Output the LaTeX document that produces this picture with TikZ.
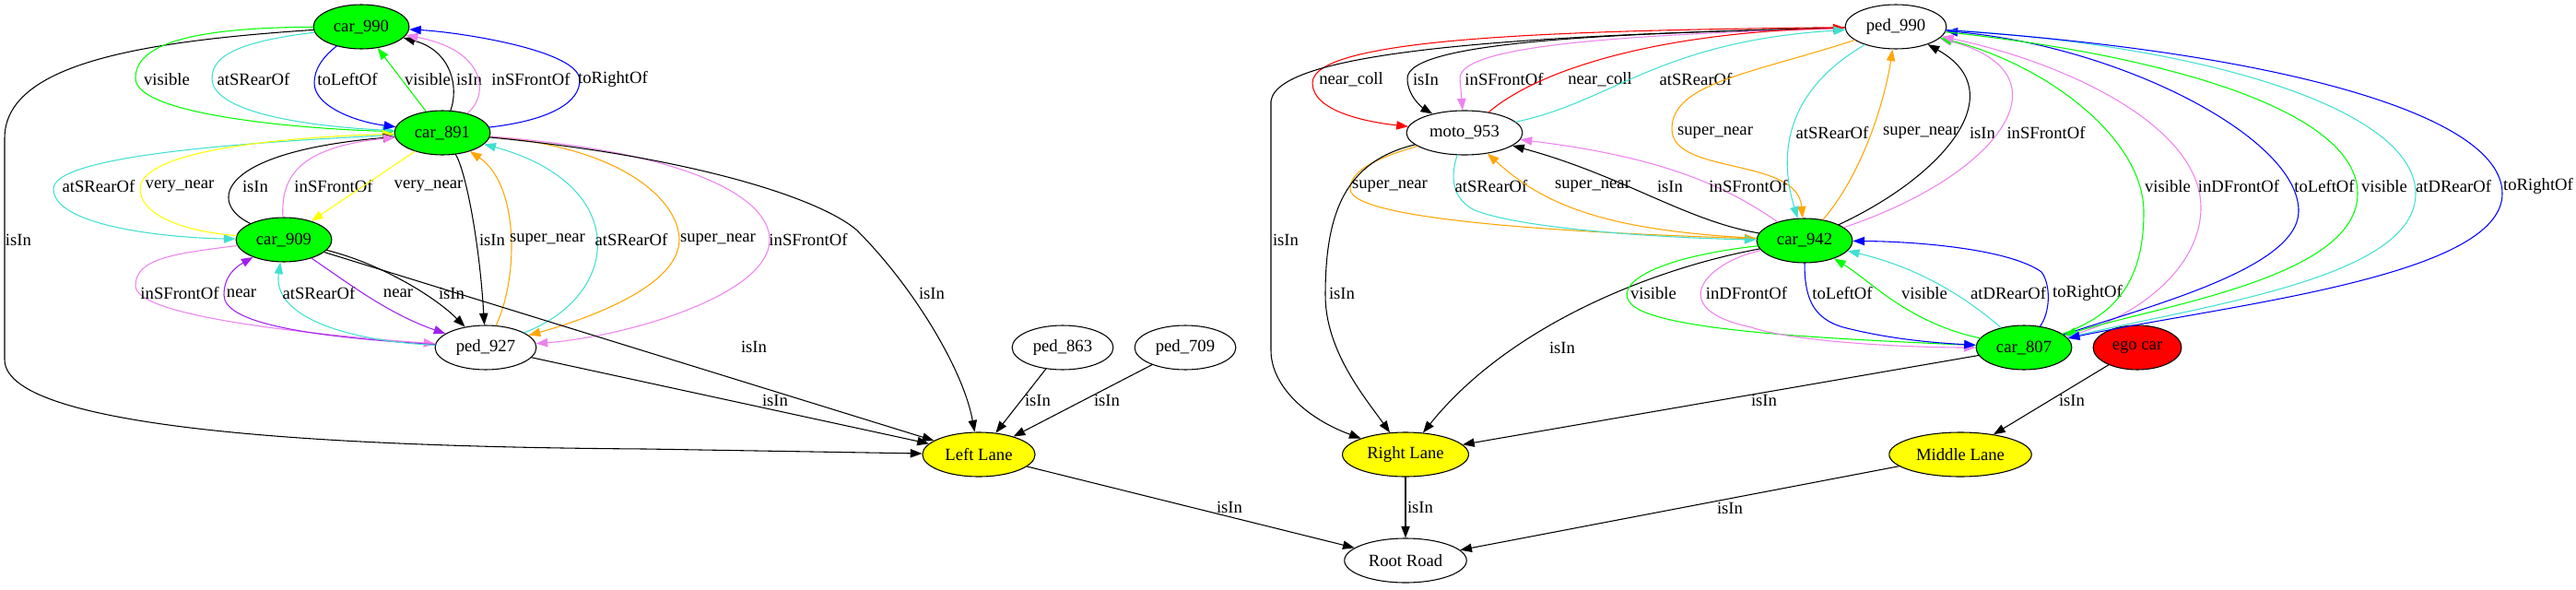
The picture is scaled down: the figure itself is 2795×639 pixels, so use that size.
\documentclass[tikz,border=0pt]{standalone}
\usepackage{fontspec}
\setmainfont{Liberation Serif}
\usetikzlibrary{arrows.meta,shapes.geometric}
\definecolor{gvgreen}{RGB}{0,255,0}
\definecolor{gvyellow}{RGB}{255,255,0}
\definecolor{gvred}{RGB}{255,0,0}
\definecolor{gvblue}{RGB}{0,0,255}
\definecolor{gvturq}{RGB}{64,224,208}
\definecolor{gvviolet}{RGB}{238,130,238}
\definecolor{gvpurple}{RGB}{160,32,240}
\definecolor{gvorange}{RGB}{255,165,0}
\newcommand{\gvsize}{\fontsize{14pt}{16pt}\selectfont}
\begin{document}
\begin{tikzpicture}[x=0.75pt, y=-0.75pt, line join=round, line cap=round, >={Triangle[length=9.5pt,width=7pt]},
	obj/.style={ellipse, draw, fill=white, line width=0.8pt, minimum height=36pt, inner xsep=5pt, inner ysep=0pt, font=\gvsize},
	car/.style={obj, fill=gvgreen},
	lane/.style={obj, fill=gvyellow},
	egocar/.style={obj, fill=gvred},
	rel/.style={->, line width=0.8pt},
	lbl/.style={font=\gvsize, text=black, inner sep=0pt}]
	\useasboundingbox (0,0) rectangle (2795,639);
	\node[car] (c990) at (392,29) {car\_990};
	\node[car] (c891) at (480,144) {car\_891};
	\node[car] (c909) at (308,260) {car\_909};
	\node[obj] (p927) at (527,377) {ped\_927};
	\node[obj] (p863) at (1153,377) {ped\_863};
	\node[obj] (p709) at (1286,377) {ped\_709};
	\node[lane] (LL) at (1062,493) {Left Lane};
	\node[lane] (RL) at (1525,493) {Right Lane};
	\node[lane] (ML) at (2127,493) {Middle Lane};
	\node[obj] (RR) at (1525,608) {Root Road};
	\node[obj] (p990) at (2057,29) {ped\_990};
	\node[obj] (m953) at (1589,144) {moto\_953};
	\node[car] (c942) at (1958,261) {car\_942};
	\node[car] (c807) at (2196,377) {car\_807};
	\node[egocar] (ego) at (2319,377) {ego car};
	\draw[rel] (c990) .. controls (150,45) and (5,70) .. (5,150) -- (5,390) .. controls (5,470) and (400,485) .. (700,487) -- (LL) node[lbl] (lb1) at (20,260) {isIn};
	\draw[rel, gvgreen] (c990) .. controls (200,30) and (147,50) .. (147,85) .. controls (147,125) and (330,140) .. (c891) node[lbl] (lb2) at (181,86) {visible};
	\draw[rel, gvturq] (c990) .. controls (260,45) and (230,60) .. (230,85) .. controls (230,125) and (350,138) .. (c891) node[lbl] (lb3) at (275,86) {atSRearOf};
	\draw[rel, gvblue] (c990) .. controls (350,62) and (341,75) .. (341,90) .. controls (341,115) and (385,132) .. (c891) node[lbl] (lb4) at (377,86) {toLeftOf};
	\draw[rel, gvgreen] (c891) -- (c990) node[lbl] (lb5) at (464,86) {visible};
	\draw[rel] (c891) .. controls (498,95) and (490,55) .. (c990) node[lbl] (lb6) at (509,86) {isIn};
	\draw[rel, gvviolet] (c891) .. controls (530,105) and (530,55) .. (c990) node[lbl] (lb7) at (576,86) {inSFrontOf};
	\draw[rel, gvblue] (c891) .. controls (600,130) and (629,110) .. (629,87) .. controls (629,55) and (500,35) .. (c990) node[lbl] (lb8) at (665,86) {toRightOf};
	\draw[rel, gvturq] (c891) .. controls (250,155) and (58,170) .. (58,205) .. controls (58,245) and (180,258) .. (c909) node[lbl] (lb9) at (107,202) {atSRearOf};
	\draw[rel, gvyellow] (c909) .. controls (190,250) and (152,230) .. (152,205) .. controls (152,160) and (330,148) .. (c891) node[lbl] (lb10) at (195,202) {very\_near};
	\draw[rel] (c909) .. controls (225,220) and (235,165) .. (c891) node[lbl] (lb11) at (277,202) {isIn};
	\draw[rel, gvviolet] (c909) .. controls (305,195) and (320,160) .. (c891) node[lbl] (lb12) at (362,202) {inSFrontOf};
	\draw[rel, gvyellow] (c891) -- (c909) node[lbl] (lb13) at (465,202) {very\_near};
	\draw[rel] (c891) .. controls (505,185) and (520,260) .. (p927) node[lbl] (lb14) at (534,260) {isIn};
	\draw[rel, gvorange] (p927) .. controls (563,300) and (563,200) .. (c891) node[lbl] (lb15) at (594,260) {super\_near};
	\draw[rel, gvturq] (p927) .. controls (675,320) and (685,200) .. (c891) node[lbl] (lb16) at (685,260) {atSRearOf};
	\draw[rel, gvorange] (c891) .. controls (680,160) and (737,220) .. (737,260) .. controls (737,310) and (640,345) .. (p927) node[lbl] (lb17) at (779,260) {super\_near};
	\draw[rel, gvviolet] (c891) .. controls (750,165) and (835,215) .. (835,260) .. controls (835,320) and (680,365) .. (p927) node[lbl] (lb18) at (877,260) {inSFrontOf};
	\draw[rel] (c891) .. controls (750,170) and (890,215) .. (930,250) .. controls (990,310) and (1045,400) .. (LL) node[lbl] (lb19) at (1011,318) {isIn};
	\draw[rel, gvviolet] (c909) .. controls (190,275) and (147,280) .. (147,310) .. controls (147,340) and (300,360) .. (p927) node[lbl] (lb20) at (195,318) {inSFrontOf};
	\draw[rel, gvpurple] (p927) .. controls (330,365) and (243,350) .. (243,320) .. controls (243,300) and (255,290) .. (c909) node[lbl] (lb21) at (262,318) {near};
	\draw[rel, gvturq] (p927) .. controls (380,370) and (295,345) .. (c909) node[lbl] (lb22) at (346,318) {atSRearOf};
	\draw[rel, gvpurple] (c909) .. controls (375,305) and (420,340) .. (p927) node[lbl] (lb23) at (432,318) {near};
	\draw[rel] (c909) .. controls (410,285) and (470,320) .. (p927) node[lbl] (lb24) at (490,318) {isIn};
	\draw[rel] (c909) -- (LL) node[lbl] (lb25) at (818,376) {isIn};
	\draw[rel] (p927) -- (LL) node[lbl] (lb26) at (841,434) {isIn};
	\draw[rel] (p863) -- (LL) node[lbl] (lb27) at (1126,434) {isIn};
	\draw[rel] (p709) -- (LL) node[lbl] (lb28) at (1201,434) {isIn};
	\draw[rel] (LL) -- (RR) node[lbl] (lb29) at (1334,550) {isIn};
	\draw[rel] (RL) -- (RR) node[lbl] (lb30) at (1541,550) {isIn};
	\draw[rel] (ML) -- (RR) node[lbl] (lb31) at (1877,551) {isIn};
	\draw[rel] (c807) -- (RL) node[lbl] (lb32) at (1914,434) {isIn};
	\draw[rel] (ego) -- (ML) node[lbl] (lb33) at (2248,434) {isIn};
	\draw[rel, gvred] (p990) .. controls (1700,33) and (1424,40) .. (1424,90) .. controls (1424,120) and (1480,132) .. (m953) node[lbl] (lb34) at (1466,86) {near\_coll};
	\draw[rel] (p990) .. controls (1650,38) and (1385,55) .. (1379,110) -- (1379,380) .. controls (1379,420) and (1420,455) .. (RL) node[lbl] (lb35) at (1395,260) {isIn};
	\draw[rel] (p990) .. controls (1750,36) and (1527,45) .. (1527,85) .. controls (1527,105) and (1545,118) .. (m953) node[lbl] (lb36) at (1547,86) {isIn};
	\draw[rel, gvviolet] (p990) .. controls (1750,38) and (1584,50) .. (1584,85) -- (m953) node[lbl] (lb37) at (1632,86) {inSFrontOf};
	\draw[rel, gvred] (m953) .. controls (1670,75) and (1800,35) .. (p990) node[lbl] (lb38) at (1736,86) {near\_coll};
	\draw[rel, gvturq] (m953) .. controls (1750,110) and (1800,45) .. (p990) node[lbl] (lb39) at (1840,86) {atSRearOf};
	\draw[rel, gvorange] (p990) .. controls (1900,80) and (1814,90) .. (1814,140) .. controls (1814,190) and (1950,170) .. (c942) node[lbl] (lb40) at (1861,144) {super\_near};
	\draw[rel, gvturq] (p990) .. controls (1935,100) and (1930,170) .. (c942) node[lbl] (lb41) at (1988,144) {atSRearOf};
	\draw[rel, gvorange] (c942) .. controls (2020,190) and (2045,110) .. (p990) node[lbl] (lb42) at (2084,144) {super\_near};
	\draw[rel] (c942) .. controls (2110,190) and (2185,100) .. (p990) node[lbl] (lb43) at (2151,144) {isIn};
	\draw[rel, gvviolet] (c942) .. controls (2170,190) and (2250,80) .. (p990) node[lbl] (lb44) at (2220,144) {inSFrontOf};
	\draw[rel, gvorange] (m953) .. controls (1480,175) and (1465,190) .. (1465,205) .. controls (1465,245) and (1800,255) .. (c942) node[lbl] (lb45) at (1508,202) {super\_near};
	\draw[rel, gvturq] (m953) .. controls (1574,190) and (1574,215) .. (1600,228) .. controls (1650,248) and (1800,258) .. (c942) node[lbl] (lb46) at (1618,202) {atSRearOf};
	\draw[rel, gvorange] (c942) .. controls (1740,250) and (1675,222) .. (m953) node[lbl] (lb47) at (1728,202) {super\_near};
	\draw[rel] (c942) .. controls (1830,240) and (1760,190) .. (m953) node[lbl] (lb48) at (1812,202) {isIn};
	\draw[rel, gvviolet] (c942) .. controls (1870,200) and (1800,170) .. (m953) node[lbl] (lb49) at (1897,202) {inSFrontOf};
	\draw[rel] (c942) .. controls (1800,290) and (1640,350) .. (RL) node[lbl] (lb50) at (1695,377) {isIn};
	\draw[rel] (m953) .. controls (1460,175) and (1438,230) .. (1438,320) .. controls (1438,380) and (1480,430) .. (RL) node[lbl] (lb51) at (1456,318) {isIn};
	\draw[rel, gvgreen] (c942) .. controls (1790,280) and (1750,310) .. (1770,330) .. controls (1800,360) and (2000,368) .. (c807) node[lbl] (lb52) at (1794,318) {visible};
	\draw[rel, gvviolet] (c942) .. controls (1850,285) and (1805,335) .. (1900,355) .. controls (1950,372) and (2080,377) .. (c807) node[lbl] (lb53) at (1895,318) {inDFrontOf};
	\draw[rel, gvblue] (c942) .. controls (1958,320) and (1965,345) .. (2000,355) .. controls (2050,368) and (2100,372) .. (c807) node[lbl] (lb54) at (1999,318) {toLeftOf};
	\draw[rel, gvgreen] (c807) .. controls (2070,350) and (2030,305) .. (c942) node[lbl] (lb55) at (2088,318) {visible};
	\draw[rel, gvturq] (c807) .. controls (2130,320) and (2080,290) .. (c942) node[lbl] (lb56) at (2179,318) {atDRearOf};
	\draw[rel, gvblue] (c807) .. controls (2224,340) and (2226,310) .. (2215,295) .. controls (2180,270) and (2080,262) .. (c942) node[lbl] (lb57) at (2265,318) {toRightOf};
	\draw[rel, gvgreen] (c807) .. controls (2300,340) and (2326,300) .. (2326,230) .. controls (2326,150) and (2220,70) .. (p990) node[lbl] (lb58) at (2352,202) {visible};
	\draw[rel, gvviolet] (c807) .. controls (2320,345) and (2388,290) .. (2388,225) .. controls (2388,140) and (2250,70) .. (p990) node[lbl] (lb59) at (2429,202) {inDFrontOf};
	\draw[rel, gvblue] (c807) .. controls (2340,330) and (2492,290) .. (2494,230) .. controls (2496,150) and (2300,50) .. (p990) node[lbl] (lb60) at (2522,202) {toLeftOf};
	\draw[rel, gvgreen] (p990) .. controls (2350,60) and (2558,120) .. (2558,210) .. controls (2558,300) and (2350,330) .. (c807) node[lbl] (lb61) at (2587,202) {visible};
	\draw[rel, gvturq] (p990) .. controls (2400,50) and (2621,120) .. (2621,210) .. controls (2621,300) and (2400,330) .. (c807) node[lbl] (lb62) at (2662,202) {atDRearOf};
	\draw[rel, gvblue] (p990) .. controls (2450,55) and (2715,120) .. (2715,210) .. controls (2715,300) and (2420,330) .. (c807) node[lbl] (lb63) at (2754,202) {toRightOf};
\end{tikzpicture}
\end{document}
